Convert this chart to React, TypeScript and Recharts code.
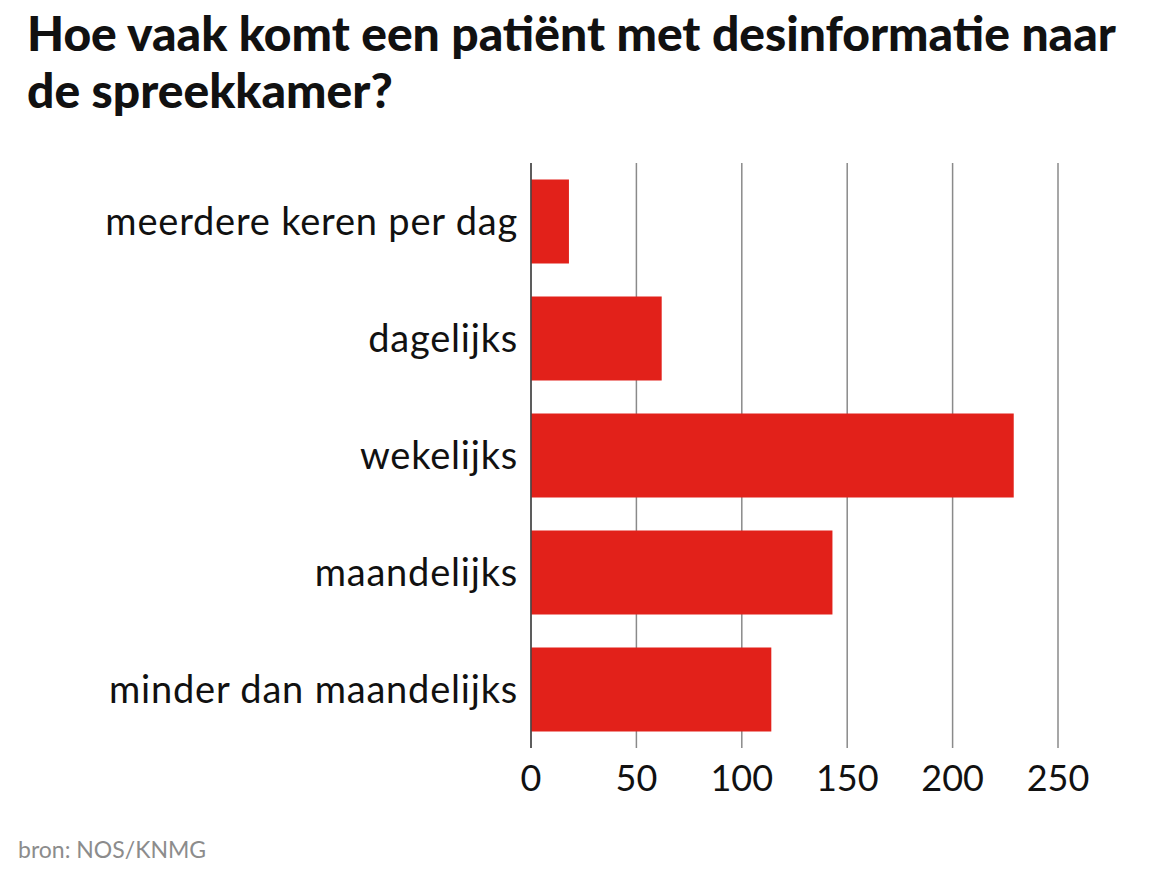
import { Bar, BarChart, CartesianGrid, ReferenceLine, XAxis, YAxis } from "recharts";

const categories = [
  "meerdere keren per dag",
  "dagelijks",
  "wekelijks",
  "maandelijks",
  "minder dan maandelijks",
];
const counts = [18, 62, 229, 143, 114];
const xTicks = [0, 50, 100, 150, 200, 250];

const data = categories.map((name, i) => ({ name, value: counts[i] }));

const FONT = "Lato, 'Noto Sans', sans-serif";

export default function App() {
  return (
    <div
      style={{
        position: "absolute",
        left: 0,
        top: 0,
        width: 1170,
        height: 870,
        background: "#fff",
        fontFamily: FONT,
        overflow: "hidden",
      }}
    >
      <div
        style={{
          position: "absolute",
          left: 27,
          top: 4,
          width: 1140,
          fontSize: 48,
          fontWeight: 900,
          lineHeight: "57px",
          color: "#111",
          whiteSpace: "nowrap",
        }}
      >
        Hoe vaak komt een patiënt met desinformatie naar
        <br />
        de spreekkamer?
      </div>

      <div style={{ position: "absolute", left: 0, top: 0 }}>
        <BarChart
          width={1170}
          height={870}
          data={data}
          layout="vertical"
          margin={{ top: 163, right: 112, bottom: 82, left: 0 }}
          barCategoryGap="14%"
        >
          <CartesianGrid horizontal={false} stroke="#8a8a8a" strokeWidth={1.5} />
          <XAxis
            type="number"
            domain={[0, 250]}
            ticks={xTicks}
            axisLine={false}
            tickLine={false}
            height={40}
            tickMargin={11}
            tick={{ fontSize: 36, fill: "#111", fontFamily: FONT }}
          />
          <YAxis
            type="category"
            dataKey="name"
            width={531}
            axisLine={false}
            tickLine={false}
            tickSize={0}
            tickMargin={13}
            tick={{ fontSize: 38, fill: "#111", fontFamily: FONT, letterSpacing: 0.8 }}
          />
          <Bar dataKey="value" fill="#e2211a" isAnimationActive={false} />
          <ReferenceLine x={0} stroke="#444" strokeWidth={1.5} />
        </BarChart>
      </div>

      <div
        style={{
          position: "absolute",
          left: 18,
          top: 835,
          fontSize: 23,
          color: "#8c8c8c",
        }}
      >
        bron: NOS/KNMG
      </div>
    </div>
  );
}
